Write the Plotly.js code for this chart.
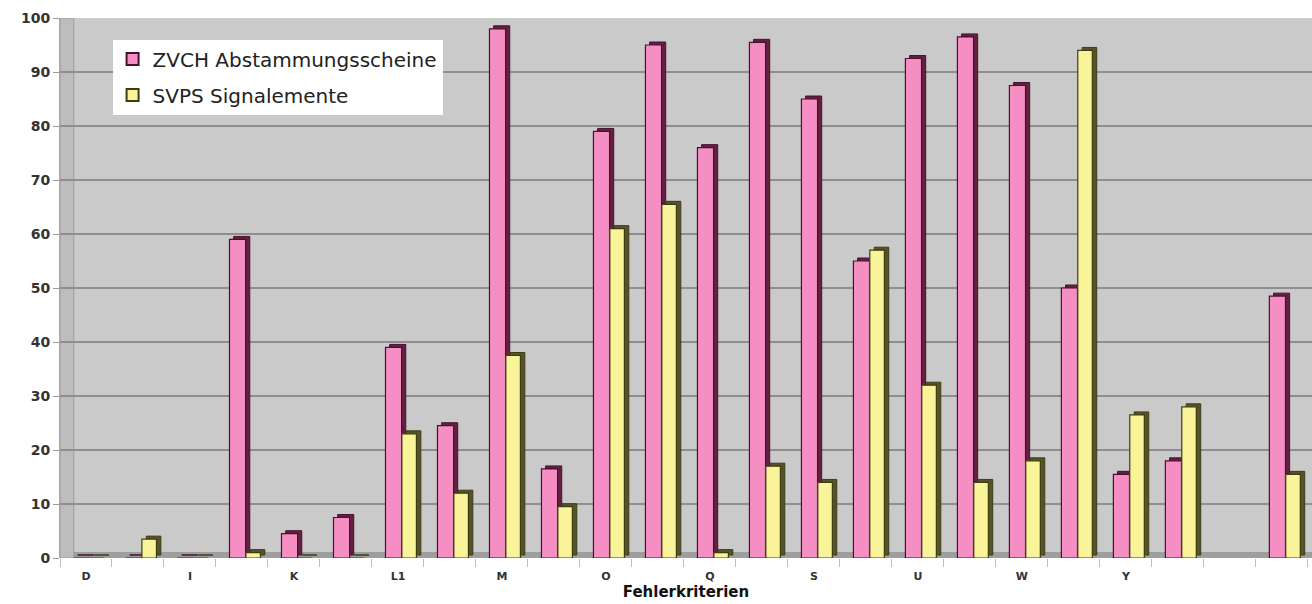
<!DOCTYPE html>
<html>
<head>
<meta charset="utf-8">
<script src="https://cdn.plot.ly/plotly-3.0.1.min.js"></script>
<style>
  html, body { margin: 0; padding: 0; background: #ffffff; }
  #chart { width: 1312px; height: 604px; }
</style>
</head>
<body>
<div id="chart"></div>
<script>
// Categories (only every other one is labelled in the original)
var categories = ["D","E","I","J","K","L","L1","L2","M","N","O","P","Q","R","S","T","U","V","W","X","Y","Z","Z1","Z2"];
var tickLabels = ["D","","I","","K","","L1","","M","","O","","Q","","S","","U","","W","","Y","","",""];

var seriesNames = ["ZVCH Abstammungsscheine", "SVPS Signalemente"];
var zvch = [0, 0, 0, 59, 4.5, 7.5, 39, 24.5, 98, 16.5, 79, 95, 76, 95.5, 85, 55, 92.5, 96.5, 87.5, 50, 15.5, 18, null, 48.5];
var svps = [0, 3.5, 0, 1, 0, 0, 23, 12, 37.5, 9.5, 61, 65.5, 1, 17, 14, 57, 32, 14, 18, 94, 26.5, 28, null, 15.5];

var pinkFace = "#f58fc3", pinkSide = "#62213f", pinkEdge = "#4a1030";
var yelFace = "#f9f39a", yelSide = "#55532a", yelEdge = "#3e3c14";

function sideTrace(vals, off, w, col, edge) {
  return {
    type: "bar", x: categories, y: vals, base: 0.55,
    offset: off, width: w,
    marker: { color: col, line: { color: edge, width: 1 } },
    showlegend: false, hoverinfo: "skip"
  };
}
function faceTrace(vals, name, off, w, col, edge, grp) {
  return {
    type: "bar", x: categories, y: vals, name: name,
    offset: off, width: w, legendgroup: grp,
    marker: { color: col, line: { color: edge, width: 1.2 } }
  };
}

var data = [
  sideTrace(zvch, -0.16, 0.31, pinkSide, pinkEdge),
  faceTrace(zvch, seriesNames[0], -0.24, 0.31, pinkFace, pinkEdge, "a"),
  sideTrace(svps, 0.16, 0.28, yelSide, yelEdge),
  faceTrace(svps, seriesNames[1], 0.075, 0.28, yelFace, yelEdge, "b")
];

var layout = {
  width: 1312, height: 604,
  margin: { l: 60, r: 0, t: 18, b: 46, pad: 0 },
  paper_bgcolor: "#ffffff",
  plot_bgcolor: "#cacaca",
  barmode: "overlay",
  font: { family: "Liberation Sans, Arial, sans-serif", color: "#222222" },
  xaxis: {
    type: "category",
    categoryorder: "array", categoryarray: categories,
    tickmode: "array", tickvals: categories, ticktext: tickLabels,
    tickson: "boundaries",
    ticks: "outside", ticklen: 8, tickcolor: "#bdbdbd", tickwidth: 1,
    ticklabelstandoff: 10,
    showgrid: false, zeroline: false,
    showline: false,
    range: [-0.5, 23.58],
    tickfont: { size: 11, family: "DejaVu Sans, sans-serif", weight: "bold", color: "#333" },
    title: { text: "Fehlerkriterien", standoff: 4,
             font: { size: 15, family: "DejaVu Sans, sans-serif", weight: "bold", color: "#111" } }
  },
  yaxis: {
    range: [0, 100],
    tickmode: "array", tickvals: [0,10,20,30,40,50,60,70,80,90,100],
    ticks: "outside", ticklen: 6, tickcolor: "#9a9a9a",
    showgrid: true, gridcolor: "#8e8e8e", gridwidth: 2,
    zeroline: false,
    showline: true, linecolor: "#a8a8a8", linewidth: 1,
    tickfont: { size: 14, family: "DejaVu Sans, sans-serif", weight: "bold", color: "#333" }
  },
  shapes: [
    { type: "rect", xref: "paper", yref: "y", x0: 0, x1: 1, y0: -0.4, y1: 1.1,
      fillcolor: "#9e9e9e", line: { width: 0 }, layer: "between" },
    { type: "rect", xref: "paper", yref: "y", x0: 0, x1: 0.011, y0: 0, y1: 100,
      fillcolor: "#bdbdbd", line: { color: "#9a9a9a", width: 1 }, layer: "between" }
  ],
  legend: {
    x: 0.042, y: 0.96, xanchor: "left", yanchor: "top",
    bgcolor: "#ffffff", borderwidth: 0,
    tracegroupgap: 7,
    entrywidth: 340, entrywidthmode: "pixels",
    font: { size: 20, family: "DejaVu Sans, sans-serif", color: "#222" },
    itemsizing: "constant"
  },
  showlegend: true
};

Plotly.newPlot("chart", data, layout, { displayModeBar: false, staticPlot: true });
</script>
</body>
</html>
